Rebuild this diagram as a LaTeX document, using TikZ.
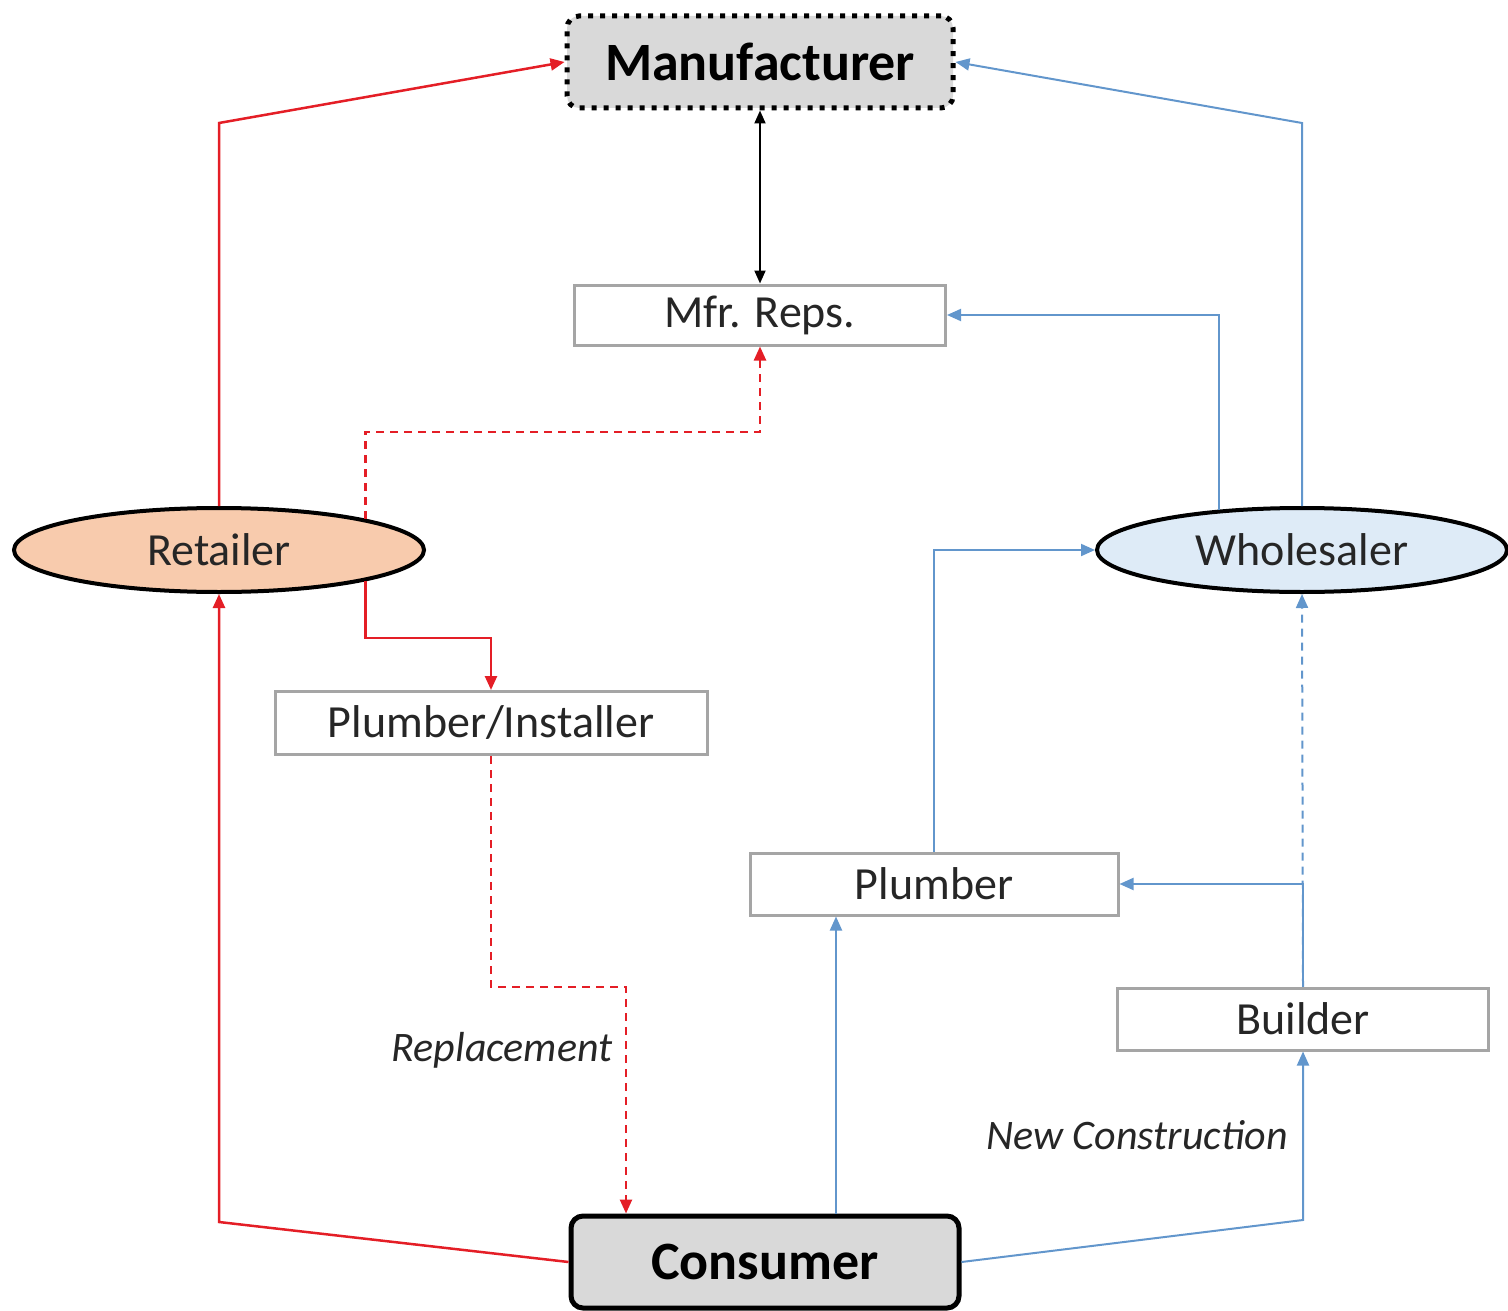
\documentclass[tikz,border=0pt]{standalone}
\usepackage{fontspec}
\setmainfont{Carlito}
\usetikzlibrary{shapes.geometric,arrows.meta}
\definecolor{redln}{RGB}{228,30,38}
\definecolor{blueln}{RGB}{98,150,204}
\definecolor{boxgray}{RGB}{165,165,165}
\definecolor{fillgray}{RGB}{217,217,217}
\definecolor{peach}{RGB}{248,203,173}
\definecolor{paleblue}{RGB}{222,235,247}
\definecolor{txt}{RGB}{38,38,38}
\begin{document}
\begin{tikzpicture}[x=1pt,y=-1pt,
  plainbox/.style={draw=boxgray,line width=3pt,fill=white,minimum width=#1,
    minimum height=62pt,inner sep=0pt,font=\fontsize{46}{54}\selectfont,text=txt},
  bigbox/.style={fill=fillgray,rounded corners=12pt,minimum width=#1,
    minimum height=92pt,inner sep=0pt,font=\fontsize{54}{64}\selectfont\bfseries},
  oval/.style={ellipse,draw=black,line width=4pt,fill=#1,minimum width=410pt,
    minimum height=84pt,inner sep=0pt,font=\fontsize{46}{54}\selectfont,text=txt},
  redarrow/.style={draw=redln,line width=2.5pt,-{Triangle[length=14pt,width=12pt]}},
  bluearrow/.style={draw=blueln,line width=2pt,-{Triangle[length=14pt,width=12pt]}},
  dashline/.style={dash pattern=on 8pt off 6pt},
  flowlabel/.style={font=\fontsize{42}{50}\selectfont\itshape,text=txt}
]
\useasboundingbox (0,0) rectangle (1508,1311);

% nodes
\node[bigbox=386pt,draw=black,line width=5pt,dash pattern=on 5pt off 7pt] (Man) at (760,62) {Manufacturer};
\node[bigbox=388pt,draw=black,line width=5pt] (Con) at (765,1262) {Consumer};
\node[plainbox=371pt,minimum height=60pt] (MR) at (760,315) {Mfr. Reps.};
\node[oval=peach] (Ret) at (219,550) {Retailer};
\node[oval=paleblue] (Who) at (1302,550) {Wholesaler};
\node[plainbox=432pt,minimum height=63pt] (PI) at (491,723) {Plumber/Installer};
\node[plainbox=368pt] (Plm) at (934,884) {Plumber};
\node[plainbox=371pt] (Bld) at (1303,1019) {Builder};

\node[flowlabel] (lblR) at (502,1050) {Replacement};
\node[flowlabel] (lblN) at (1137,1135) {New Construction};

% bends of the routed lines
\coordinate (rt) at (219,123);
\coordinate (rb) at (219,1222);
\coordinate (rk) at (491,638);
\coordinate (dk) at (760,432);
\coordinate (pk) at (626,987);
\coordinate (bk) at (1303,1220);
\coordinate (wt) at (1302,123);

% retail channel
\draw[redarrow] (Ret.north) -- (rt) -- (Man.west);
\draw[redarrow] (Con.west) -- (rb) -- (Ret.south);
\draw[redarrow] (Ret.-12.5) |- (rk) -- (PI.north);
\draw[redarrow,dashline] (Ret.12.5) |- (dk) -- (MR.south);
\draw[redarrow,dashline] (PI.south) |- (pk) -- (pk |- Con.north);

% manufacturer and reps
\draw[line width=2pt,{Triangle[length=13pt,width=11pt]}-{Triangle[length=13pt,width=11pt]}] (Man.south) -- (MR.north);

% wholesale channel
\draw[bluearrow] (Con.east) -- (bk) -- (Bld.south);
\draw[bluearrow] ([xshift=-98pt]Plm.south |- Con.north) -- ([xshift=-98pt]Plm.south);
\draw[bluearrow] (Bld.north) |- (Plm.east);
\draw[bluearrow,dashline] (Bld.north) -- (Who.south);
\draw[bluearrow] (Plm.north) |- (Who.west);
\draw[bluearrow] (Who.154) |- (MR.east);
\draw[bluearrow] (Who.north) -- (wt) -- (Man.east);
\end{tikzpicture}
\end{document}
